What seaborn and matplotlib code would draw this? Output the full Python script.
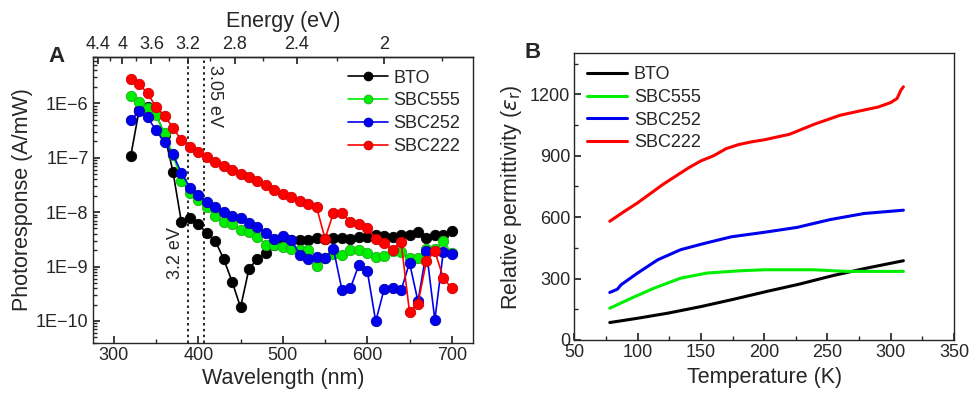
import numpy as np
import pandas as pd
import matplotlib
matplotlib.use("Agg")
import matplotlib.pyplot as plt
from matplotlib.ticker import FuncFormatter, LogLocator, MultipleLocator, NullFormatter
import seaborn as sns

# ---------------- panel A data (photoresponse, log10 of A/mW) ----------------
wavelength = [320, 330, 340, 350, 360, 370, 380, 390, 400, 410, 420, 430, 440, 450,
              460, 470, 480, 490, 500, 510, 520, 530, 540, 550, 560, 570, 580, 590,
              600, 610, 620, 630, 640, 650, 660, 670, 680, 690, 700]
bto_log = [-6.97, -6.12, -6.07, -6.20, -6.58, -7.26, -8.19, -8.11, -8.22, -8.39, -8.53, -8.86, -9.28, -9.75,
           -9.04, -8.86, -8.75, -8.60, -8.54, -8.51, -8.51, -8.51, -8.48, -8.49, -8.48, -8.48, -8.49, -8.46,
           -8.45, -8.42, -8.44, -8.45, -8.42, -8.42, -8.37, -8.47, -8.43, -8.42, -8.34]
sbc555_log = [-5.87, -5.98, -6.08, -6.22, -6.55, -6.95, -7.42, -7.65, -7.78, -7.91, -8.08, -8.18, -8.21, -8.33,
              -8.36, -8.45, -8.60, -8.60, -8.65, -8.68, -8.70, -8.69, -8.99, -8.85, -8.77, -8.79, -8.70, -8.70,
              -8.75, -8.82, -8.81, -8.72, -8.74, -8.85, -8.85, -8.67, -8.67, -8.54, -8.75]
sbc252_log = [-6.31, -6.15, -6.26, -6.50, -6.72, -6.94, -7.28, -7.55, -7.69, -7.82, -7.90, -7.99, -8.08, -8.11,
              -8.20, -8.28, -8.39, -8.50, -8.44, -8.51, -8.78, -8.86, -8.82, -8.85, -8.68, -9.43, -9.40, -8.97,
              -9.08, -10.01, -9.41, -9.39, -9.44, -8.93, -9.64, -8.72, -9.98, -8.73, -8.77]
sbc222_log = [-5.55, -5.65, -5.82, -6.07, -6.23, -6.45, -6.68, -6.80, -6.89, -6.98, -7.08, -7.15, -7.23, -7.30,
              -7.36, -7.43, -7.51, -7.60, -7.67, -7.73, -7.80, -7.85, -7.91, -8.49, -8.01, -8.01, -8.19, -8.22,
              -8.30, -8.49, -8.56, -8.70, -8.55, -9.84, -9.68, -8.90, -8.72, -9.21, -9.40]

energy_ticks = [4.4, 4.0, 3.6, 3.2, 2.8, 2.4, 2.0]
energy_labels = ["4.4", "4", "3.6", "3.2", "2.8", "2.4", "2"]
gap_lines = [3.2, 3.05]  # eV

# ---------------- panel B data (relative permittivity vs temperature) ----------------
bto_T = [78, 100, 124, 150, 176, 202, 228, 254, 281, 310]
bto_eps = [85, 106, 131, 163, 199, 237, 273, 314, 351, 387]
sbc555_T = [78, 95, 113, 134, 155, 181, 200, 239, 265, 310]
sbc555_eps = [155, 204, 253, 302, 327, 338, 343, 343, 335, 335]
sbc252_T = [78, 84, 87, 100, 116, 134, 151, 174, 200, 226, 252, 279, 310]
sbc252_eps = [232, 248, 270, 327, 392, 441, 469, 504, 526, 550, 588, 618, 634]
sbc222_T = [78, 90, 100, 110, 120, 130, 140, 150, 160, 170, 180, 190, 200, 220, 240, 260, 280, 290, 300, 305, 308, 310]
sbc222_eps = [580, 630, 670, 715, 760, 800, 840, 875, 900, 935, 955, 968, 978, 1005, 1055, 1098, 1125, 1138, 1160, 1180, 1220, 1237]

names = ["BTO", "SBC555", "SBC252", "SBC222"]
colors = {"BTO": "#000000", "SBC555": "#00ee00", "SBC252": "#0000ee", "SBC222": "#ff0000"}
edges = {"BTO": "#000000", "SBC555": "#22aa22", "SBC252": "#0000aa", "SBC222": "#cc0000"}

sns.set_theme(style="ticks")
plt.rcParams['font.family'] = ['Liberation Sans', 'DejaVu Sans']
plt.rcParams['axes.linewidth'] = 1.0

TICK = 13
LABEL = 15.5

fig = plt.figure(figsize=(9.71, 3.93), dpi=100)
axA = fig.add_axes([0.0955, 0.128, 0.3915, 0.727])
axB = fig.add_axes([0.5915, 0.135, 0.391, 0.729])

# ---------------- panel A ----------------
logs = {"BTO": bto_log, "SBC555": sbc555_log, "SBC252": sbc252_log, "SBC222": sbc222_log}
for n in names:
    df = pd.DataFrame({"wl": wavelength, "pr": 10 ** np.array(logs[n])})
    sns.lineplot(data=df, x="wl", y="pr", ax=axA, color=colors[n], lw=1.2,
                 marker="o", markersize=7.5, markerfacecolor=colors[n],
                 markeredgecolor=edges[n], markeredgewidth=0.6, label=n)

axA.set_yscale("log")
axA.set_xlim(275, 725)
axA.set_ylim(10 ** -10.4, 10 ** -5.15)
axA.xaxis.set_major_locator(MultipleLocator(100))
axA.xaxis.set_minor_locator(MultipleLocator(50))
axA.yaxis.set_major_locator(LogLocator(base=10, numticks=20))
axA.yaxis.set_minor_locator(LogLocator(base=10, subs=np.arange(2, 10), numticks=20))
axA.yaxis.set_major_formatter(FuncFormatter(lambda v, p: "1E\u2212%d" % round(-np.log10(v))))
axA.yaxis.set_minor_formatter(NullFormatter())
axA.tick_params(which="both", direction="in", labelsize=TICK, top=False, right=False, pad=3)
axA.tick_params(which="major", length=5)
axA.tick_params(which="minor", length=3)
axA.set_xlabel("Wavelength (nm)", fontsize=LABEL, labelpad=3)
axA.set_ylabel("Photoresponse (A/mW)", fontsize=LABEL, labelpad=2)

for e in gap_lines:
    axA.axvline(1240 / e, color="black", ls=(0, (1.5, 2)), lw=1.2, zorder=0)
axA.text(1240 / 3.2 - 5, 10 ** -8.75, "3.2 eV", rotation=90, ha="right", va="center", fontsize=TICK)
axA.text(1240 / 3.05 + 3, 10 ** -5.3, "3.05 eV", rotation=-90, ha="left", va="top", fontsize=TICK)

top = axA.secondary_xaxis("top", functions=(lambda x: 1240 / np.maximum(x, 1e-9),
                                             lambda x: 1240 / np.maximum(x, 1e-9)))
top.set_xticks(energy_ticks)
top.set_xticklabels(energy_labels)
top.xaxis.set_minor_locator(MultipleLocator(0.2))
top.tick_params(which="both", direction="in", labelsize=TICK, pad=3)
top.tick_params(which="major", length=5)
top.tick_params(which="minor", length=3)
top.set_xlabel("Energy (eV)", fontsize=LABEL, labelpad=6)

axA.legend(loc="upper right", frameon=False, fontsize=13, handlelength=2.2,
           handletextpad=0.3, labelspacing=0.32, borderaxespad=0.3, markerscale=0.85,
           bbox_to_anchor=(1.0, 1.0))
fig.text(0.050, 0.855, "A", fontsize=16, fontweight="bold", va="center")

# ---------------- panel B ----------------
curves = {"BTO": (bto_T, bto_eps), "SBC555": (sbc555_T, sbc555_eps),
          "SBC252": (sbc252_T, sbc252_eps), "SBC222": (sbc222_T, sbc222_eps)}
for n in names:
    t, e = curves[n]
    sns.lineplot(x=t, y=e, ax=axB, color=colors[n], lw=2.2, label=n)

axB.set_xlim(50, 350)
axB.set_ylim(0, 1400)
axB.xaxis.set_major_locator(MultipleLocator(50))
axB.xaxis.set_minor_locator(MultipleLocator(25))
axB.yaxis.set_major_locator(MultipleLocator(300))
axB.yaxis.set_minor_locator(MultipleLocator(150))
axB.tick_params(which="both", direction="in", labelsize=TICK, top=False, right=False, pad=3)
axB.tick_params(which="major", length=5)
axB.tick_params(which="minor", length=3)
axB.set_xlabel("Temperature (K)", fontsize=LABEL, labelpad=4)
axB.set_ylabel(r"Relative permittivity ($\varepsilon_\mathrm{r}$)", fontsize=LABEL, labelpad=4)
axB.legend(loc="upper left", frameon=False, fontsize=13, handlelength=2.2,
           handletextpad=0.4, labelspacing=0.32, borderaxespad=0.3)
fig.text(0.540, 0.866, "B", fontsize=16, fontweight="bold", va="center")

fig.savefig("out.png", dpi=100)
